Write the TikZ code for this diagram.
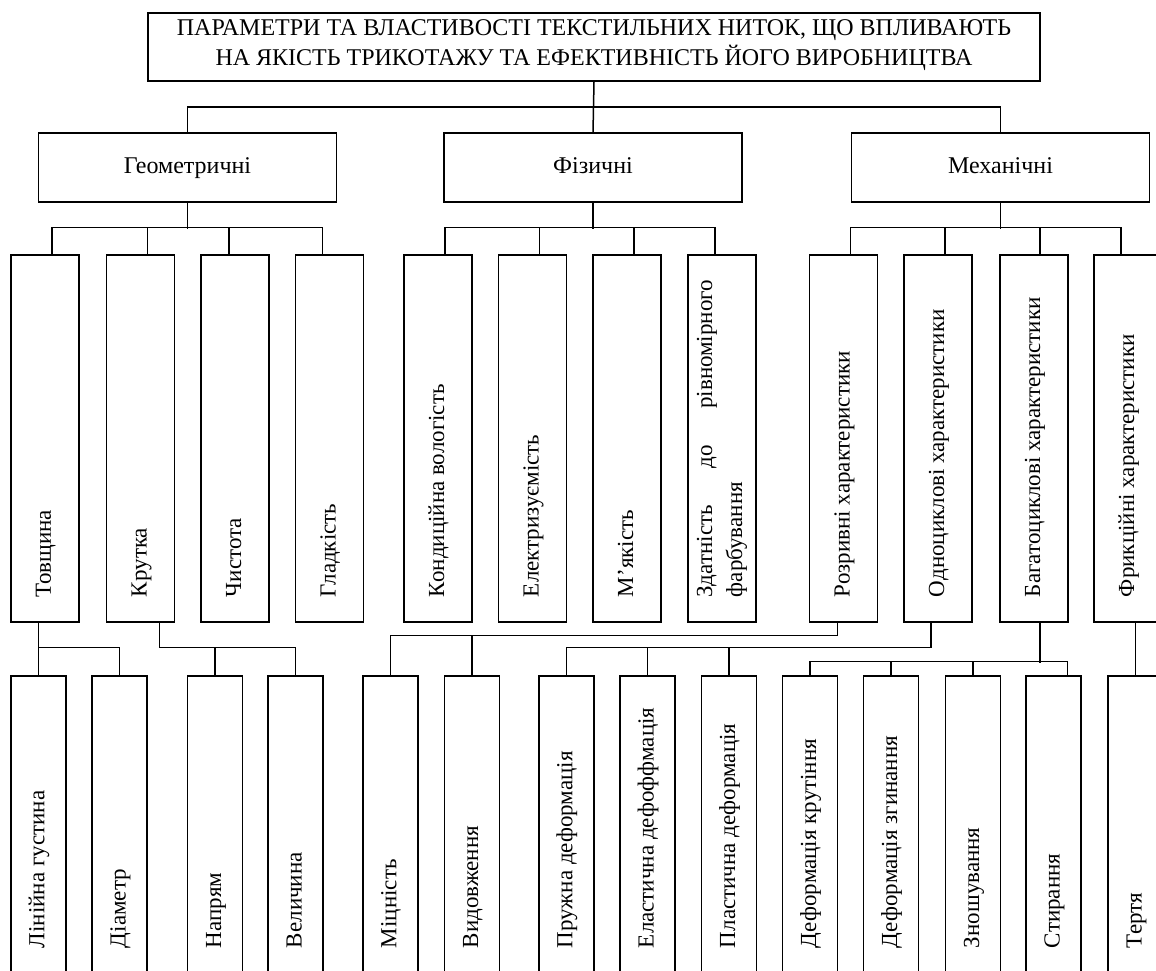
\documentclass[tikz,border=0pt]{standalone}
\usepackage{fontspec}
\setmainfont{Liberation Serif}
\usetikzlibrary{positioning, calc}

\newcommand{\vlabel}[2]{\rotatebox{90}{\makebox[#1][l]{\strut #2}}}

\begin{document}
\begin{tikzpicture}[x=1pt, y=-1pt, line width=1.5pt,
    every node/.style={font=\fontsize{23}{30}\selectfont, inner sep=0pt},
    headbox/.style={draw, minimum width=892pt, minimum height=68pt, align=center,
        font=\fontsize{24}{30}\selectfont},
    groupbox/.style={draw, minimum width=298pt, minimum height=69pt,
        font=\fontsize{24}{30}\selectfont, text height=17pt, text depth=5pt},
    itembox/.style={draw, minimum width=68pt, minimum height=367pt},
    leafbox/.style={draw, minimum width=55pt, minimum height=334pt}]
    \useasboundingbox (0,0) rectangle (1156,971);

    % Title
    \node[headbox] (title) at (594,47) {ПАРАМЕТРИ ТА ВЛАСТИВОСТІ ТЕКСТИЛЬНИХ НИТОК, ЩО ВПЛИВАЮТЬ\\НА ЯКІСТЬ ТРИКОТАЖУ ТА ЕФЕКТИВНІСТЬ ЙОГО ВИРОБНИЦТВА\strut};

    % Groups
    \node[groupbox] (geom) at (187.5,167.5) {Геометричні};
    \node[groupbox] (fiz) at (593,167.5) {Фізичні};
    \node[groupbox] (mekh) at (1000.5,167.5) {Механічні};

    % Properties
    \node[itembox] (tovsh) at (45,438.5) {\vlabel{317pt}{Товщина}};
    \node[itembox] (krut) at (140.5,438.5) {\vlabel{317pt}{Крутка}};
    \node[itembox] (chyst) at (235,438.5) {\vlabel{317pt}{Чистота}};
    \node[itembox] (hlad) at (329.5,438.5) {\vlabel{317pt}{Гладкість}};
    \node[itembox] (kond) at (438,438.5) {\vlabel{317pt}{Кондиційна вологість}};
    \node[itembox] (elektr) at (532.5,438.5) {\vlabel{317pt}{Електризуємість}};
    \node[itembox] (miak) at (627,438.5) {\vlabel{317pt}{М’якість}};
    \node[itembox] (zdat) at (722,438.5) {\rotatebox{90}{\parbox{317pt}{\makebox[317pt][s]{Здатність до рівномірного}\\фарбування}}};
    \node[itembox] (rozr) at (843.5,438.5) {\vlabel{317pt}{Розривні характеристики}};
    \node[itembox] (odno) at (938,438.5) {\vlabel{317pt}{Одноциклові характеристики}};
    \node[itembox] (bahat) at (1034,438.5) {\vlabel{317pt}{Багатоциклові характеристики}};
    \node[itembox] (fryk) at (1128,438.5) {\vlabel{317pt}{Фрикційні характеристики}};

    % Sub-properties
    \node[leafbox] (lin) at (38.4,843) {\vlabel{210pt}{Лінійна густина}};
    \node[leafbox] (diam) at (119.5,843) {\vlabel{210pt}{Діаметр}};
    \node[leafbox] (napr) at (215,843) {\vlabel{210pt}{Напрям}};
    \node[leafbox] (velych) at (295.6,843) {\vlabel{210pt}{Величина}};
    \node[leafbox] (mitsn) at (390.3,843) {\vlabel{210pt}{Міцність}};
    \node[leafbox] (vydov) at (472,843) {\vlabel{210pt}{Видовження}};
    \node[leafbox] (pruzh) at (566.3,843) {\vlabel{210pt}{Пружна деформація}};
    \node[leafbox] (elast) at (647.6,843) {\vlabel{210pt}{Еластична дефоффмація}};
    \node[leafbox] (plast) at (729,843) {\vlabel{210pt}{Пластична деформація}};
    \node[leafbox] (kruch) at (810,843) {\vlabel{210pt}{Деформація крутіння}};
    \node[leafbox] (zhyn) at (891,843) {\vlabel{210pt}{Деформація згинання}};
    \node[leafbox] (znosh) at (973,843) {\vlabel{210pt}{Зношування}};
    \node[leafbox] (styr) at (1053.5,843) {\vlabel{210pt}{Стирання}};
    \node[leafbox] (tert) at (1135.5,843) {\vlabel{210pt}{Тертя}};

    % Title to groups
    \draw (title.south) -- (fiz.north);
    \draw (geom.north) -- ++(0,-25) -| (mekh.north);

    % Groups to properties
    \draw (geom.south) -- ++(0,26);
    \draw ($(tovsh.north)+(7,0)$) |- ($(hlad.north)+(-7,-27)$) -- ($(hlad.north)+(-7,0)$);
    \draw ($(krut.north)+(7,0)$) -- ++(0,-27);
    \draw ($(chyst.north)+(-6,0)$) -- ++(0,-27);

    \draw (fiz.south) -- ++(0,26);
    \draw ($(kond.north)+(7,0)$) |- ($(zdat.north)+(-7,-27)$) -- ($(zdat.north)+(-7,0)$);
    \draw ($(elektr.north)+(7,0)$) -- ++(0,-27);
    \draw ($(miak.north)+(7,0)$) -- ++(0,-27);

    \draw (mekh.south) -- ++(0,26);
    \draw ($(rozr.north)+(7,0)$) |- ($(fryk.north)+(-7,-27)$) -- ($(fryk.north)+(-7,0)$);
    \draw ($(odno.north)+(7,0)$) -- ++(0,-27);
    \draw ($(bahat.north)+(6,0)$) -- ++(0,-27);

    % Properties to sub-properties
    \draw (tovsh.south -| lin.north) -- (lin.north);
    \draw (lin.north) ++(0,-28) -| (diam.north);
    \draw ($(krut.south)+(19,0)$) |- ($(velych.north)+(0,-28)$) -- (velych.north);
    \draw (napr.north) -- ++(0,-28);

    \draw ($(rozr.south)+(-6,0)$) |- ($(mitsn.north)+(0,-40)$) -- (mitsn.north);
    \draw (vydov.north) -- ++(0,-40);
    \draw ($(odno.south)+(-7,0)$) |- ($(pruzh.north)+(0,-28)$) -- (pruzh.north);
    \draw (elast.north) -- ++(0,-28);
    \draw (plast.north) -- ++(0,-28);

    \draw ($(bahat.south)+(6,0)$) -- ++(0,40);
    \draw ($(kruch.north)+(0,-14)$) -| ($(styr.north)+(14,0)$);
    \draw (kruch.north) -- ++(0,-14);
    \draw (zhyn.north) -- ++(0,-14);
    \draw (znosh.north) -- ++(0,-14);
    \draw ($(styr.north)+(14,0)$) -- ++(0,-14);
    \draw (fryk.south -| tert.north) -- (tert.north);
\end{tikzpicture}
\end{document}
